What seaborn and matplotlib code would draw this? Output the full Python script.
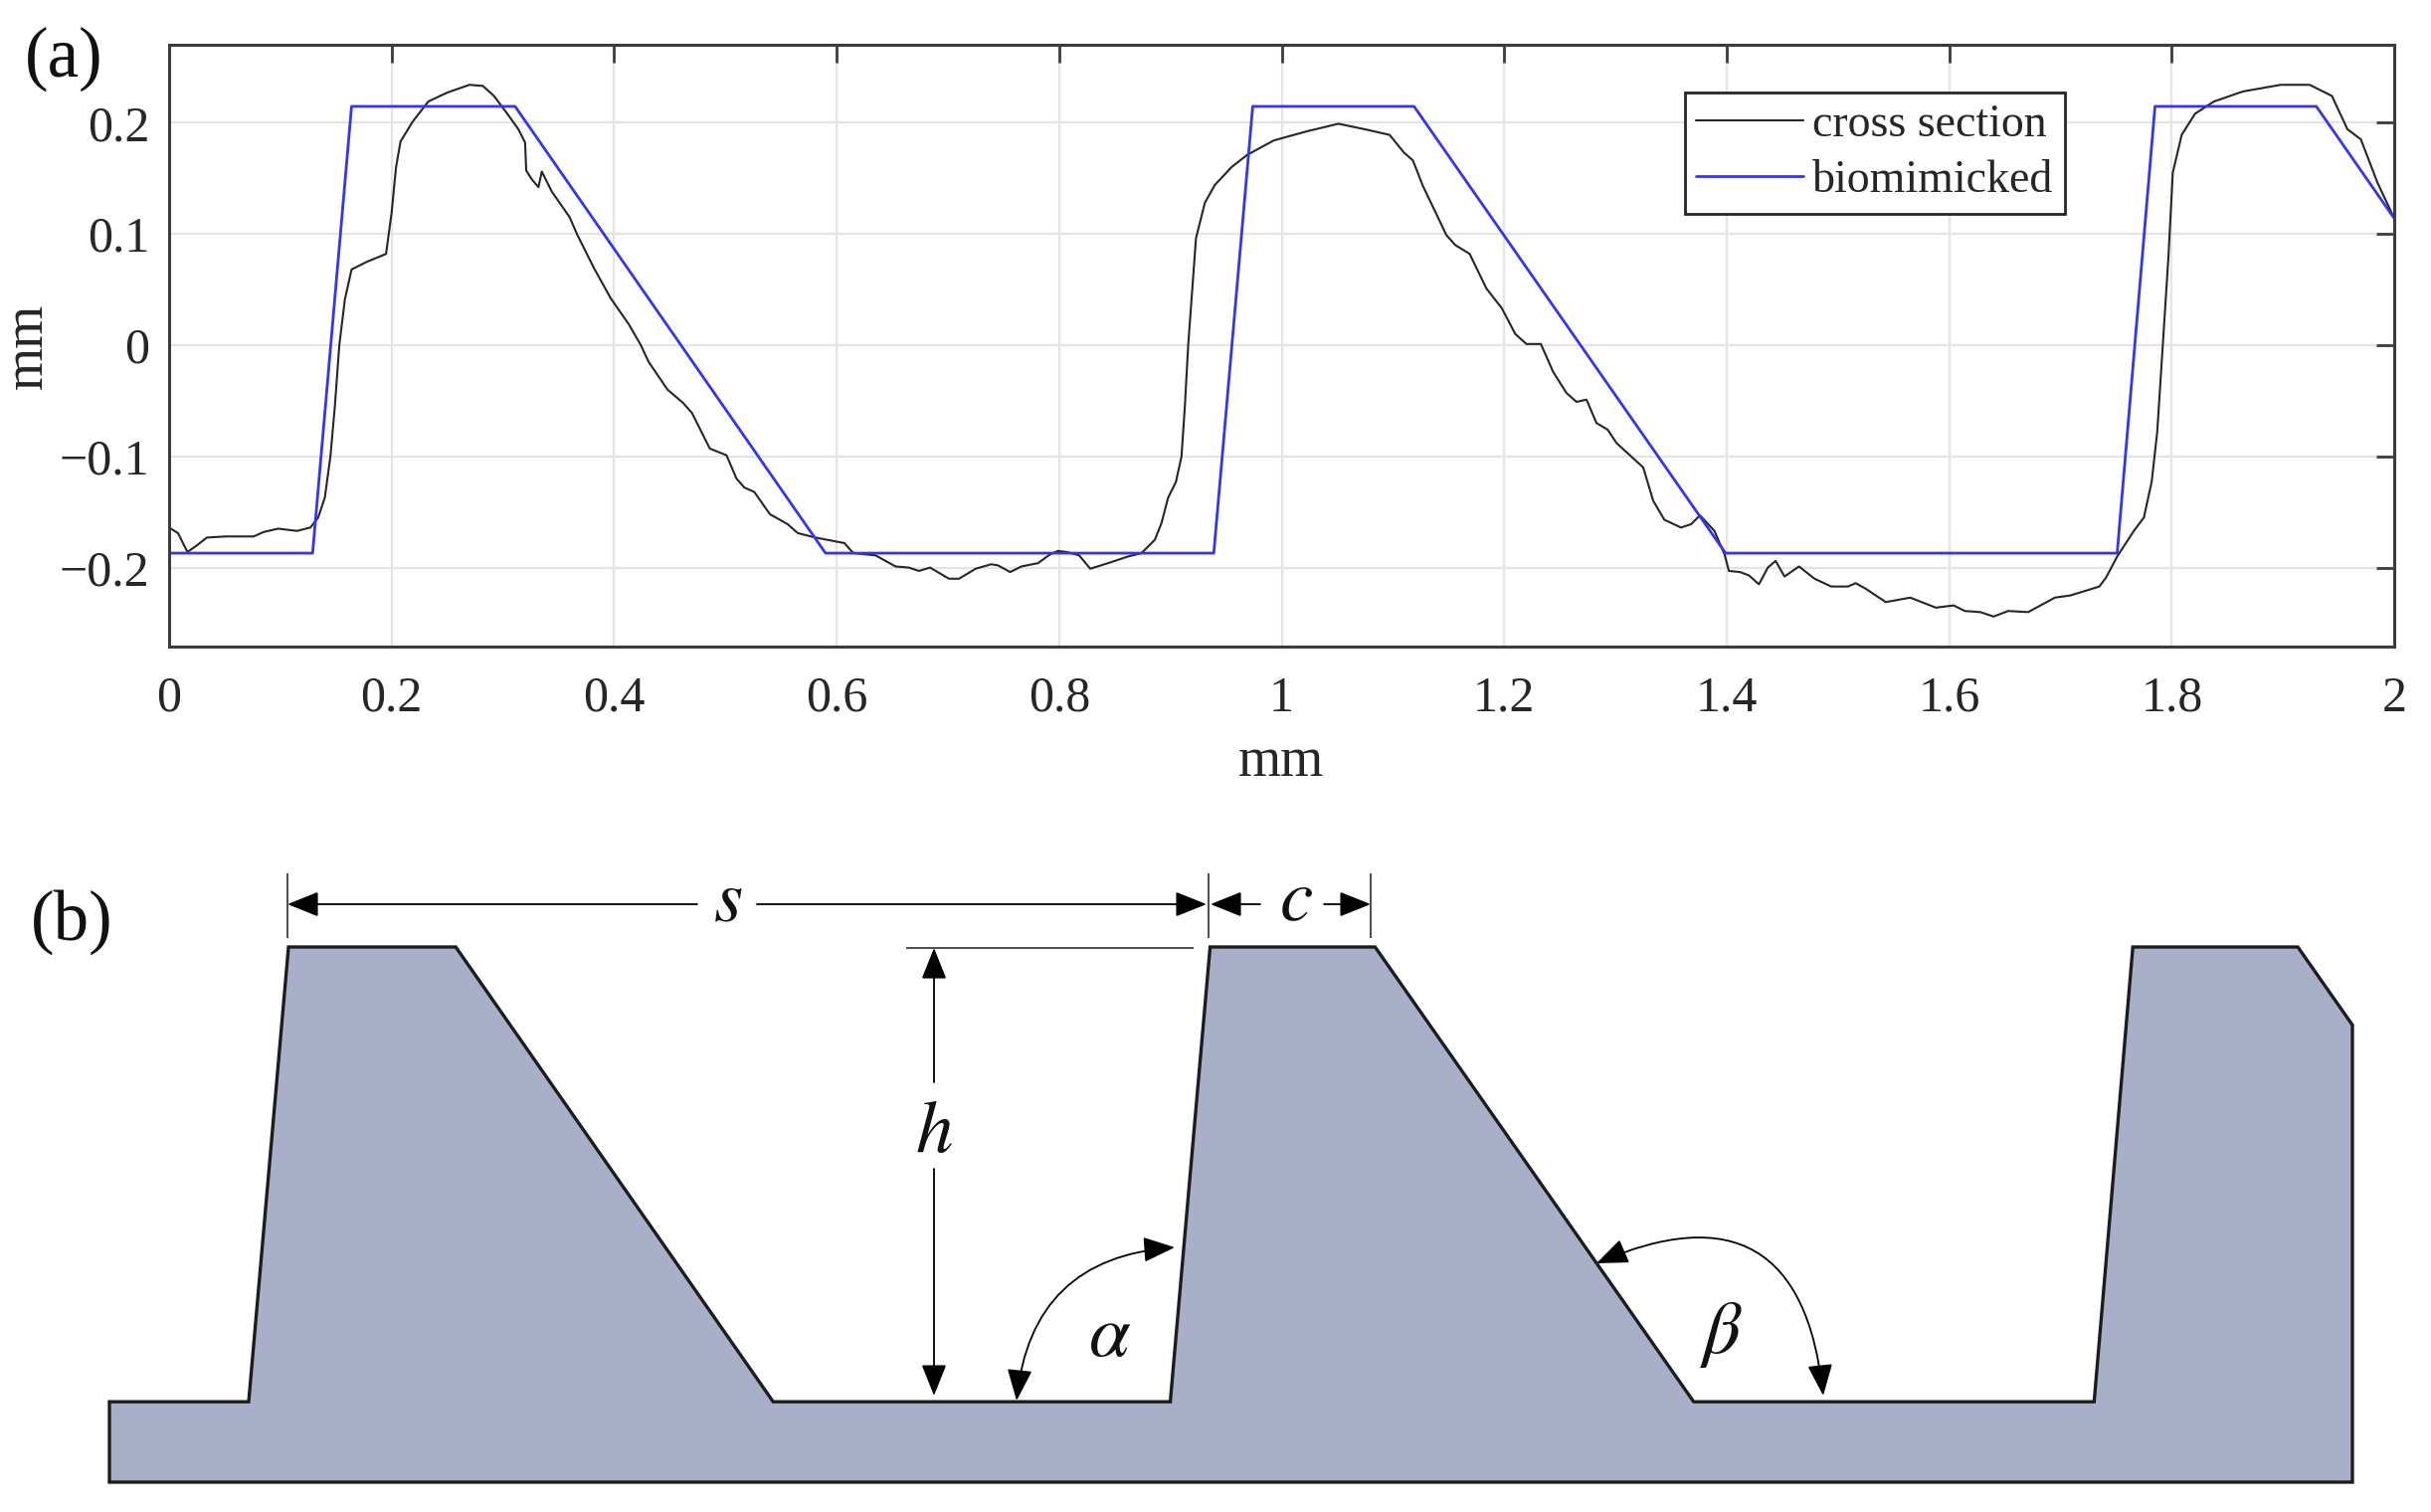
import matplotlib
matplotlib.use('Agg')
import matplotlib.pyplot as plt
import pandas as pd
import seaborn as sns

W, H = 2444, 1520

# traced cross section of the riblet, mm
section_x = [0, .008, .0165, .025, .034, .051, .076, .085, .098, .115, .127, .134, .140, .145, .149, .153,
             .158, .164, .178, .195, .200, .204, .208, .219, .233, .250, .270, .282, .292, .304, .314, .320,
             .321, .326, .332, .335, .344, .360, .367, .382, .397, .413, .424, .431, .448, .462, .470, .486,
             .491, .501, .510, .517, .526, .540, .556, .565, .581, .607, .615, .635, .653, .665, .674, .684,
             .701, .710, .725, .739, .745, .756, .766, .781, .792, .799, .807, .818, .828, .844, .862, .874,
             .886, .892, .898, .905, .910, .913, .916, .920, .923, .931, .940, .955, .969, .993, 1.022, 1.051,
             1.075, 1.097, 1.110, 1.118, 1.127, 1.139, 1.148, 1.156, 1.169, 1.184, 1.198, 1.210, 1.220, 1.233,
             1.244, 1.256, 1.265, 1.274, 1.283, 1.293, 1.301, 1.325, 1.334, 1.344, 1.359, 1.368, 1.376, 1.389,
             1.398, 1.402, 1.412, 1.420, 1.429, 1.437, 1.444, 1.452, 1.465, 1.479, 1.494, 1.509, 1.516, 1.525,
             1.543, 1.565, 1.588, 1.604, 1.614, 1.628, 1.640, 1.653, 1.671, 1.695, 1.709, 1.735, 1.741, 1.751,
             1.766, 1.775, 1.782, 1.787, 1.792, 1.797, 1.801, 1.809, 1.821, 1.838, 1.864, 1.898, 1.924, 1.944,
             1.958, 1.970, 1.985, 2.0]
section_y = [-.164, -.169, -.186, -.180, -.173, -.172, -.172, -.168, -.165, -.167, -.164, -.155, -.137, -.100,
             -.055, 0, .041, .068, .075, .082, .119, .160, .183, .201, .219, .227, .234, .233, .224, .208, .194,
             .182, .157, .149, .142, .156, .138, .115, .099, .069, .042, .019, 0, -.015, -.040, -.052, -.061,
             -.093, -.095, -.099, -.120, -.128, -.132, -.152, -.161, -.169, -.173, -.178, -.187, -.189, -.199,
             -.200, -.203, -.200, -.210, -.210, -.201, -.197, -.198, -.204, -.199, -.196, -.188, -.185, -.186,
             -.189, -.201, -.196, -.190, -.187, -.175, -.160, -.137, -.123, -.100, -.055, 0, .055, .096, .128,
             .144, .160, .171, .184, .192, .199, .194, .189, .173, .166, .143, .118, .099, .090, .082, .051, .033,
             .010, .001, .001, -.024, -.043, -.051, -.049, -.070, -.076, -.088, -.110, -.140, -.157, -.164, -.161,
             -.153, -.167, -.188, -.203, -.204, -.207, -.215, -.200, -.194, -.208, -.199, -.210, -.217, -.217,
             -.214, -.219, -.231, -.227, -.236, -.234, -.239, -.240, -.244, -.239, -.240, -.227, -.225, -.217,
             -.209, -.190, -.167, -.155, -.123, -.078, 0, .078, .155, .189, .208, .219, .228, .234, .234, .224,
             .194, .185, .146, .114]

# fitted trapezoid profile
bio_x = [0, .129, .164, .311, .590, .939, .974, 1.119, 1.399, 1.751, 1.785, 1.930, 2.0]
bio_y = [-.187, -.187, .2146, .2146, -.187, -.187, .2146, .2146, -.187, -.187, .2146, .2146, .114]

# solid in panel (b), same trapezoids cut off at both ends and sitting on a base
solid_x = [.0066, .0066, .129, .164, .311, .590, .939, .974, 1.119, 1.399, 1.751, 1.785, 1.930, 1.978, 1.978]
solid_y = [-.258, -.187, -.187, .2146, .2146, -.187, -.187, .2146, .2146, -.187, -.187, .2146, .2146, .1457, -.258]

x_ticks = [0, .2, .4, .6, .8, 1, 1.2, 1.4, 1.6, 1.8, 2]
x_labels = ['0', '0.2', '0.4', '0.6', '0.8', '1', '1.2', '1.4', '1.6', '1.8', '2']
y_ticks = [-.2, -.1, 0, .1, .2]
y_labels = ['\u22120.2', '\u22120.1', '0', '0.1', '0.2']

sns.set_theme(style='white')
plt.rcParams['font.family'] = ['Liberation Serif', 'DejaVu Serif']
plt.rcParams['mathtext.fontset'] = 'stix'

DARK = '#3c3c3c'
BLUE = '#3434f4'
FILL = '#a9afc9'


def rect(left, top, right, bottom):
    return [left / W, 1 - bottom / H, (right - left) / W, (bottom - top) / H]


fig = plt.figure(figsize=(W / 100, H / 100), dpi=100, facecolor='white')

# ---- panel (a)
ax = fig.add_axes(rect(170, 45, 2407, 650))
section = pd.DataFrame({'x': section_x, 'y': section_y})
bio = pd.DataFrame({'x': bio_x, 'y': bio_y})
sns.lineplot(data=section, x='x', y='y', ax=ax, color='#262626', lw=1.5, estimator=None, sort=False,
             label='cross section', solid_joinstyle='round')
sns.lineplot(data=bio, x='x', y='y', ax=ax, color=BLUE, lw=2.0, estimator=None, sort=False,
             label='biomimicked')
ax.set_xlim(0, 2)
ax.set_ylim(-.271, .27)
ax.set_xticks(x_ticks, x_labels)
ax.set_yticks(y_ticks, y_labels)
ax.grid(True, color='#e4e4e4', lw=1.6)
ax.set_axisbelow(True)
ax.tick_params(direction='in', length=13, width=2, color=DARK, top=True, right=True, labelcolor='#262626')
ax.tick_params(axis='x', labelsize=36, pad=21)
ax.tick_params(axis='y', labelsize=36, pad=14)
for spine in ax.spines.values():
    spine.set_color(DARK)
    spine.set_linewidth(2.2)
ax.set_xlabel('mm', fontsize=40, color='#262626', labelpad=10)
ax.set_ylabel('mm', fontsize=40, color='#262626', labelpad=4)
leg = ax.legend(loc='upper left', bbox_to_anchor=((1694 - 170) / 2237, 1 - (93 - 45) / 605), borderaxespad=0,
                fontsize=33, frameon=True, framealpha=1, fancybox=False, edgecolor='#262626',
                handlelength=2.35, handletextpad=.2, labelspacing=.3, borderpad=.25, labelcolor='#262626')
leg.get_frame().set_linewidth(2)

# ---- panel (b), same mm units as (a)
ax_b = fig.add_axes(rect(110, 952, 2365, 1490))
ax_b.fill(solid_x, solid_y, facecolor=FILL, edgecolor='#1c1c1c', lw=2.4, clip_on=False, joinstyle='miter')
ax_b.set_xlim(.0066, 1.978)
ax_b.set_ylim(-.258, .2146)
ax_b.axis('off')

# overlay in image pixels for the labels and dimension arrows
over = fig.add_axes([0, 0, 1, 1])
over.set_xlim(0, W)
over.set_ylim(H, 0)
over.axis('off')
over.patch.set_alpha(0)

ARROW = 'head_length=0.7,head_width=0.28'


def arrow(p0, p1, style='-|>', rad=0.0, lw=1.3):
    over.annotate('', xy=p1, xytext=p0,
                  arrowprops=dict(arrowstyle=f'{style},{ARROW}', mutation_scale=28, color='black', lw=lw,
                                  shrinkA=0, shrinkB=0, connectionstyle=f'arc3,rad={rad}'))


def rule(xs, ys):
    over.plot(xs, ys, color='#1c1c1c', lw=1.1, solid_capstyle='butt')


def symbol(x, y, tex):
    over.text(x, y, tex, fontsize=54, ha='center', va='center', color='#111111')


over.text(64, 59, '(a)', fontsize=51, ha='center', va='center', color='#111111')
over.text(72, 927, '(b)', fontsize=51, ha='center', va='center', color='#111111')

# s
rule([289, 289], [878, 943])
rule([1215, 1215], [878, 943])
arrow((701, 909), (289, 909))
arrow((761, 909), (1213, 909))
symbol(732, 909, r'$s$')

# c
rule([1378, 1378], [878, 943])
arrow((1267, 909), (1217, 909))
arrow((1331, 909), (1378, 909))
symbol(1303, 907, r'$c$')

# h
rule([911, 1200], [953, 953])
arrow((939, 1088), (939, 953))
arrow((939, 1175), (939, 1403))
symbol(939, 1140, r'$h$')

# alpha and beta
arrow((1022, 1408), (1181, 1254), style='<|-|>', rad=-.42)
symbol(1116, 1345, r'$\alpha$')
arrow((1605, 1270), (1833, 1403), style='<|-|>', rad=-.68)
symbol(1730, 1342, r'$\beta$')

fig.savefig('out.png', dpi=100)
